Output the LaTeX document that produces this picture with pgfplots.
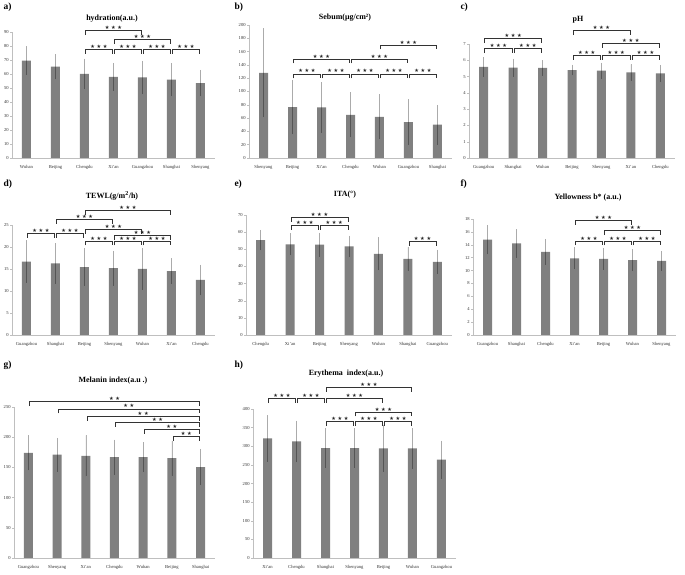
\documentclass[border=0pt]{standalone}
\usepackage{fontspec}
\setmainfont{Liberation Serif}
\newfontfamily\symf{DejaVu Sans}
\usepackage{pgfplots}
\pgfplotsset{compat=1.18}
\definecolor{barc}{HTML}{808080}
\definecolor{axc}{HTML}{BFBFBF}
\pgfplotsset{
  panel/.style={
    scale only axis, anchor=south west,
    xmin=-0.5, xmax=6.5, ymin=0,
    enlargelimits=false, clip=false,
    axis x line=bottom, axis y line=left,
    axis line style={-, draw=axc, line width=0.6pt},
    xtick={0,...,6}, xtick style={draw=none},
    ytick style={draw=axc, line width=0.4pt}, tick align=outside, major tick length=2bp,
    ticklabel style={font=\fontsize{4.6}{5}\selectfont, text=black!80},
    /pgf/number format/assume math mode=true,
    yticklabel style={inner sep=1.2bp},
    xticklabel style={yshift=-1.5bp},
  },
  barplot/.style={ybar, bar width=9bp, fill=barc, draw=none,
    error bars/.cd, y dir=both, y explicit,
    error bar style={black, opacity=0.3, line width=0.5pt}, error mark=none},
}
\tikzset{brk/.style={draw=black!80, line width=0.55pt},
  star/.style={font=\symf\fontsize{5.2}{6}\selectfont, inner sep=0.6bp, text=black!85}}
\def\three{★ ★ ★}
\def\two{★ ★}
\newcommand{\brk}[4][\three]{%
  \draw[brk] ([xshift=1bp,yshift=-4.5bp]axis cs:#2,#4) -- ([xshift=1bp]axis cs:#2,#4) -- ([xshift=-1bp]axis cs:#3,#4) -- ([xshift=-1bp,yshift=-4.5bp]axis cs:#3,#4);
  \path (axis cs:#2,#4) -- (axis cs:#3,#4) node[midway, above, star] {#1};}
\tikzset{ttl/.style={font=\bfseries\fontsize{8}{9}\selectfont}, plab/.style={font=\bfseries\fontsize{9.5}{11}\selectfont, anchor=west}}
\begin{document}
\begin{tikzpicture}
\useasboundingbox (0,0) rectangle (685bp,575bp);
% ---------- a ----------
\node[plab] at (0bp,568bp) {a)};
\node[ttl] at (112bp,556bp) {hydration(a.u.)};
\begin{axis}[panel, at={(12bp,417bp)}, width=203bp, height=126bp, ymax=90, ytick={0,10,...,90},
  xticklabels={Wuhan,Beijing,Chengdu,Xi'an,Guangzhou,Shanghai,Shenyang}]
\addplot[barplot] table[row sep=\\, x=x, y=y, y error=e] {x y e\\ 0 69.6 10.2\\ 1 65.2 9\\ 2 60.0 11\\ 3 58.0 10\\ 4 57.5 12\\ 5 56.0 12\\ 6 53.5 9.5\\};
\brk{2}{4}{91}
\brk{3}{5}{84.5}
\brk{2}{3}{77.5}\brk{3}{4}{77.5}\brk{4}{5}{77.5}\brk{5}{6}{77.5}
\end{axis}
% ---------- b ----------
\node[plab] at (231bp,568bp) {b)};
\node[ttl] at (345bp,557bp) {Sebum(μg/cm²)};
\begin{axis}[panel, at={(249bp,417bp)}, width=203bp, height=133bp, ymax=200, ytick={0,20,...,200},
  xticklabels={Shenyang,Beijing,Xi'an,Chengdu,Wuhan,Guangzhou,Shanghai}]
\addplot[barplot] table[row sep=\\, x=x, y=y, y error=e] {x y e\\ 0 128 67\\ 1 76.6 41\\ 2 76 38\\ 3 65 34\\ 4 62 34\\ 5 54 34\\ 6 50 30\\};
\brk{1}{3}{149}\brk{3}{5}{149}
\brk{4}{6}{170}
\brk{1}{2}{126.6}\brk{2}{3}{126.6}\brk{3}{4}{126.6}\brk{4}{5}{126.6}\brk{5}{6}{126.6}
\end{axis}
% ---------- c ----------
\node[plab] at (457bp,568bp) {c)};
\node[ttl] at (578bp,555bp) {pH};
\begin{axis}[panel, at={(469bp,417bp)}, width=206bp, height=114bp, ymax=7, ytick={0,1,...,7},
  xticklabels={Guangzhou,Shanghai,Wuhan,Beijing,Shenyang,Xi'an,Chengdu}]
\addplot[barplot] table[row sep=\\, x=x, y=y, y error=e] {x y e\\ 0 5.6 0.6\\ 1 5.55 0.55\\ 2 5.53 0.47\\ 3 5.4 0.33\\ 4 5.36 0.5\\ 5 5.25 0.5\\ 6 5.2 0.52\\};
\brk{0}{2}{7.33}
\brk{0}{1}{6.72}\brk{1}{2}{6.72}
\brk{3}{5}{7.82}
\brk{4}{6}{7.05}
\brk{3}{4}{6.3}\brk{4}{5}{6.3}\brk{5}{6}{6.3}
\end{axis}
% ---------- d ----------
\node[plab] at (0bp,391bp) {d)};
\node[ttl] at (112bp,379bp) {TEWL(g/m\textsuperscript{2}/h)};
\begin{axis}[panel, at={(12bp,240bp)}, width=203bp, height=110bp, ymax=25, ytick={0,5,...,25},
  xticklabels={Guangzhou,Shanghai,Beijing,Shenyang,Wuhan,Xi'an,Chengdu}]
\addplot[barplot] table[row sep=\\, x=x, y=y, y error=e] {x y e\\ 0 16.7 4.8\\ 1 16.3 4.6\\ 2 15.4 4.3\\ 3 15.2 4.0\\ 4 15.0 4.7\\ 5 14.5 2.9\\ 6 12.5 3.5\\};
\brk{2}{5}{28.3}
\brk{1}{3}{26.3}
\brk{2}{4}{24.0}
\brk{0}{1}{23.1}\brk{1}{2}{23.1}
\brk{3}{5}{22.6}
\brk{2}{3}{21.4}\brk{3}{4}{21.4}\brk{4}{5}{21.4}
\end{axis}
% ---------- e ----------
\node[plab] at (231bp,391bp) {e)};
\node[ttl] at (345bp,380bp) {ITA(°)};
\begin{axis}[panel, at={(246bp,240bp)}, width=206bp, height=120bp, ymax=70, ytick={0,10,...,70},
  xticklabels={Chengdu,Xi'an,Beijing,Shenyang,Wuhan,Shanghai,Guangzhou}]
\addplot[barplot] table[row sep=\\, x=x, y=y, y error=e] {x y e\\ 0 55.3 6\\ 1 52.9 6.4\\ 2 52.7 7\\ 3 51.7 6.3\\ 4 47.3 9.6\\ 5 44.4 6.8\\ 6 42.7 7.1\\};
\brk{1}{3}{68.6}
\brk{1}{2}{63.9}\brk{2}{3}{63.9}
\brk{5}{6}{54.7}
\end{axis}
% ---------- f ----------
\node[plab] at (457bp,391bp) {f)};
\node[ttl] at (588bp,377bp) {Yellowness b* (a.u.)};
\begin{axis}[panel, at={(473bp,240bp)}, width=203bp, height=116bp, ymax=18, ytick={0,2,...,18},
  xticklabels={Guangzhou,Shanghai,Chengdu,Xi'an,Beijing,Wuhan,Shenyang}]
\addplot[barplot] table[row sep=\\, x=x, y=y, y error=e] {x y e\\ 0 14.8 2.3\\ 1 14.2 2.2\\ 2 12.9 2.0\\ 3 11.9 1.7\\ 4 11.8 1.7\\ 5 11.6 1.7\\ 6 11.5 1.55\\};
\brk{3}{5}{17.8}
\brk{4}{6}{16.2}
\brk{3}{4}{14.6}\brk{4}{5}{14.6}\brk{5}{6}{14.6}
\end{axis}
% ---------- g ----------
\node[plab] at (0bp,210bp) {g)};
\node[ttl] at (113bp,194bp) {Melanin index(a.u .)};
\begin{axis}[panel, at={(14bp,17bp)}, width=201bp, height=151bp, ymax=250, ytick={0,50,...,250},
  xticklabels={Guangzhou,Shenyang,Xi'an,Chengdu,Wuhan,Beijing,Shanghai}]
\addplot[barplot] table[row sep=\\, x=x, y=y, y error=e] {x y e\\ 0 174 29\\ 1 171 28\\ 2 169 34\\ 3 167 29\\ 4 167 25\\ 5 165.5 29\\ 6 150.5 30\\};
\brk[\two]{0}{6}{259}
\brk[\two]{1}{6}{247}
\brk[\two]{2}{6}{235}
\brk[\two]{3}{6}{225}
\brk[\two]{4}{6}{213}
\brk[\two]{5}{6}{201}
\end{axis}
% ---------- h ----------
\node[plab] at (231bp,210bp) {h)};
\node[ttl] at (346bp,201bp) {Erythema\ \ index(a.u.)};
\begin{axis}[panel, at={(253bp,17bp)}, width=203bp, height=149bp, ymax=400, ytick={0,50,...,400},
  xticklabels={Xi'an,Chengdu,Shanghai,Shenyang,Beijing,Wuhan,Guangzhou}]
\addplot[barplot] table[row sep=\\, x=x, y=y, y error=e] {x y e\\ 0 321 62\\ 1 313 56\\ 2 295 53\\ 3 295 53\\ 4 294 62\\ 5 294 54\\ 6 264 51\\};
\brk{2}{5}{459}
\brk{0}{1}{428}\brk{1}{2}{428}\brk{2}{4}{428}
\brk{3}{5}{392}
\brk{2}{3}{366}\brk{3}{4}{366}\brk{4}{5}{366}
\end{axis}
\end{tikzpicture}
\end{document}
